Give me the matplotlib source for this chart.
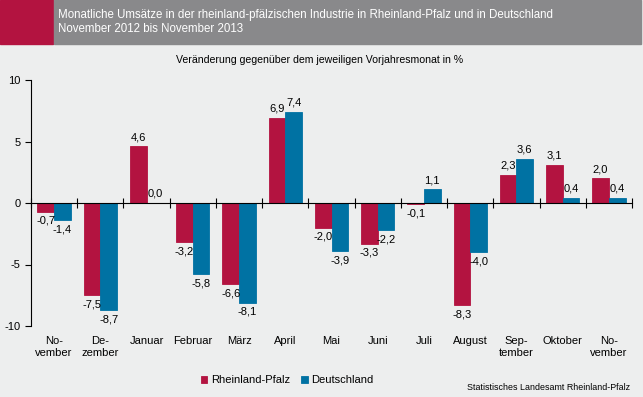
import matplotlib
matplotlib.use('Agg')
import matplotlib.pyplot as plt
from matplotlib.patches import Rectangle
import numpy as np

months = ['No-\nvember', 'De-\nzember', 'Januar', 'Februar', 'März', 'April', 'Mai',
          'Juni', 'Juli', 'August', 'Sep-\ntember', 'Oktober', 'No-\nvember']
rp = [-0.7, -7.5, 4.6, -3.2, -6.6, 6.9, -2.0, -3.3, -0.1, -8.3, 2.3, 3.1, 2.0]
de = [-1.4, -8.7, 0.0, -5.8, -8.1, 7.4, -3.9, -2.2, 1.1, -4.0, 3.6, 0.4, 0.4]
yticks = [-10, -5, 0, 5, 10]

red = '#B31340'
blue = '#0072A3'
bg = '#EDEEEE'

plt.rcParams['font.family'] = ['Liberation Sans', 'DejaVu Sans']

fig = plt.figure(figsize=(6.43, 3.97), dpi=100, facecolor=bg)

# header
fig.patches.append(Rectangle((0, 1 - 44/397), 53/643, 44/397, transform=fig.transFigure,
                             color=red, zorder=0))
fig.patches.append(Rectangle((54/643, 1 - 44/397), 587/643, 44/397, transform=fig.transFigure,
                             color='#89898B', zorder=0))
fig.text(58/643, 1 - 15/397, 'Monatliche Umsätze in der rheinland-pfälzischen Industrie in Rheinland-Pfalz und in Deutschland',
         color='white', fontsize=8.3, va='center')
fig.text(58/643, 1 - 29/397, 'November 2012 bis November 2013', color='white', fontsize=8.3, va='center')
fig.text(320/643, 1 - 60/397, 'Veränderung gegenüber dem jeweiligen Vorjahresmonat in %',
         fontsize=7.6, ha='center', va='center')

ax = fig.add_axes([31/643, 1 - 326/397, 601/643, 246/397])
ax.set_facecolor(bg)

x = np.arange(len(months))
w = 0.36
ax.bar(x - w/2, rp, w, color=red, edgecolor=red, linewidth=0.6, label='Rheinland-Pfalz', zorder=2)
ax.bar(x + w/2, de, w, color=blue, edgecolor=blue, linewidth=0.6, label='Deutschland', zorder=2)

def fmt(v):
    return ('%.1f' % v).replace('.', ',')

for xi, v in zip(x - w/2, rp):
    ax.annotate(fmt(v), (xi, v), xytext=(0, 3 if v >= 0 else -3), textcoords='offset points',
                ha='center', va='bottom' if v >= 0 else 'top', fontsize=8)
for xi, v in zip(x + w/2, de):
    ax.annotate(fmt(v), (xi, v), xytext=(0, 3 if v >= 0 else -3), textcoords='offset points',
                ha='center', va='bottom' if v >= 0 else 'top', fontsize=8)

ax.set_xlim(-0.5, len(months) - 0.5)
ax.set_ylim(-10, 10)
ax.set_yticks(yticks)
ax.set_yticklabels([str(t) for t in yticks], fontsize=8)
ax.spines['top'].set_visible(False)
ax.spines['right'].set_visible(False)
ax.spines['bottom'].set_position(('data', 0))
ax.spines['bottom'].set_zorder(3)
ax.set_xticks(np.arange(len(months) + 1) - 0.5)
ax.set_xticklabels([])
ax.tick_params(axis='x', direction='inout', length=7, width=0.8)
ax.tick_params(axis='y', direction='out', length=4, width=0.8)

for xi, m in zip(x, months):
    ax.text(xi, -0.04, m, transform=ax.get_xaxis_transform(), ha='center', va='top',
            fontsize=8, linespacing=1.3)

fig.legend(loc='center', bbox_to_anchor=(287/643, 1 - 380/397), ncol=2, frameon=False,
           fontsize=8, handlelength=0.6, handleheight=0.6, handletextpad=0.3, columnspacing=1.0)

fig.text(630/643, 1 - 388/397, 'Statistisches Landesamt Rheinland-Pfalz', fontsize=6.4,
         ha='right', va='center')

fig.savefig('out.png', dpi=100, facecolor=bg)
